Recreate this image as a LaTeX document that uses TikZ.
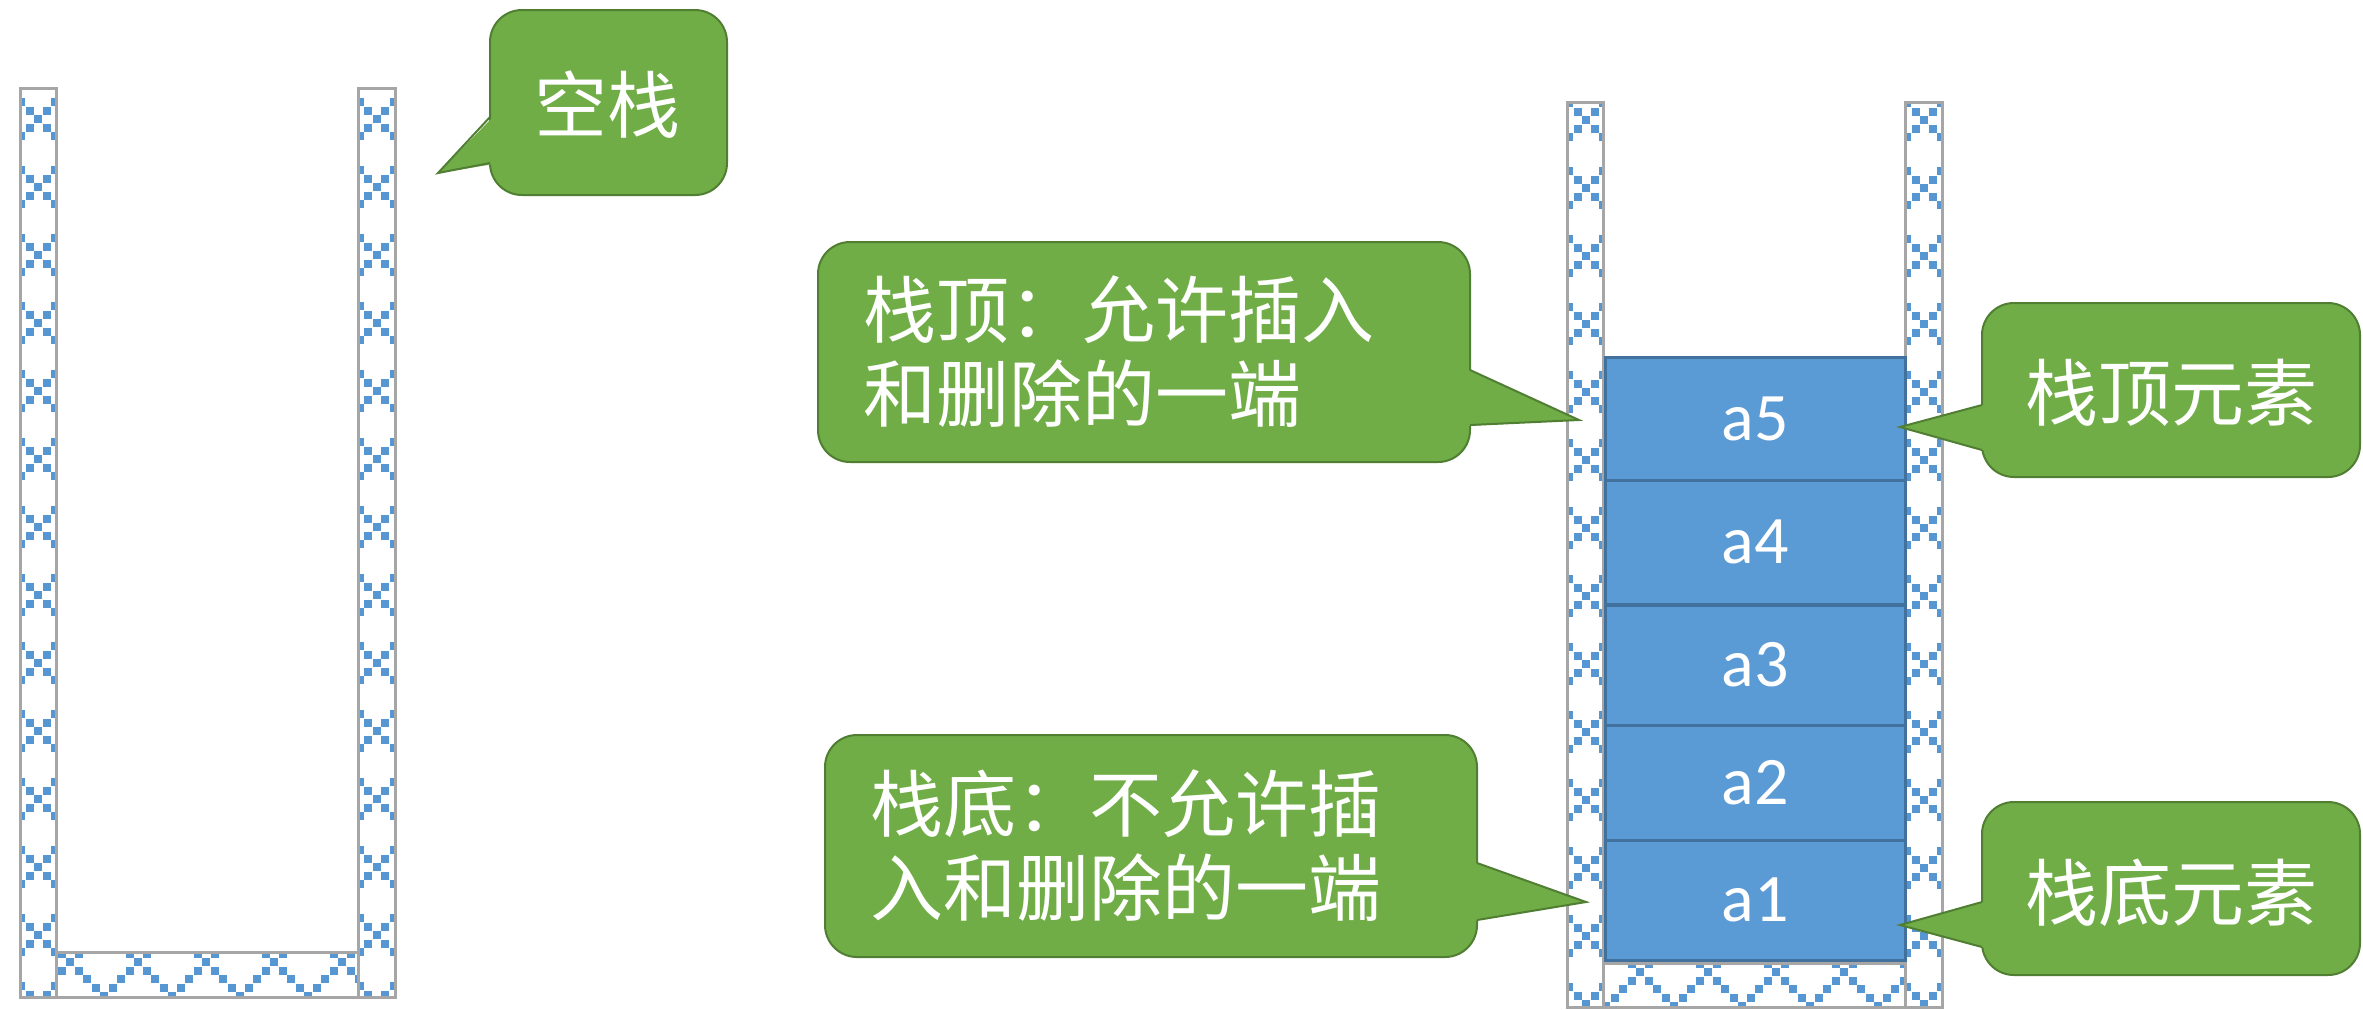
\documentclass[tikz,border=0pt]{standalone}
\usepackage{fontspec}
\setmainfont{Carlito}
\newfontfamily\cjk{Noto Sans CJK SC}
\definecolor{wallgray}{HTML}{A6A6A6}
\definecolor{latblue}{HTML}{5596D3}
\definecolor{elemblue}{HTML}{5B9BD5}
\definecolor{elemborder}{HTML}{41719C}
\definecolor{calloutgreen}{HTML}{70AD47}
\definecolor{calloutborder}{HTML}{507E32}
\tikzset{
  wallframe/.style={draw=wallgray, line width=1.5pt},
  elem/.style={draw=elemborder, fill=elemblue, line width=1.5pt, minimum width=150pt,
    text=white, inner sep=0pt, font=\fontsize{34}{34}\selectfont},
  callout/.style={fill=calloutgreen, draw=calloutborder, line width=1pt, rounded corners=16pt},
  pointerfill/.style={fill=calloutgreen},
  pointeredge/.style={draw=calloutborder, line width=1pt, line join=miter},
  ctext/.style={text=white, inner sep=0pt, align=left, font=\cjk\fontsize{36.5}{42}\selectfont}
}
\newcommand\latticefill[6]{%
  \begin{scope}
    \clip (#1,#2) rectangle (#3,#4);
    \pgfmathtruncatemacro\lia{floor((#1-#5)/8.5)-1}%
    \pgfmathtruncatemacro\lib{ceil((#3-#5)/8.5)+1}%
    \pgfmathtruncatemacro\lja{floor((#2-#6)/8.5)-1}%
    \pgfmathtruncatemacro\ljb{ceil((#4-#6)/8.5)+1}%
    \foreach \i in {\lia,...,\lib}{%
      \foreach \j in {\lja,...,\ljb}{%
        \pgfmathtruncatemacro\ma{mod(\i+\j+800,8)}%
        \pgfmathtruncatemacro\mb{mod(\i-\j+800,8)}%
        \ifnum\ma=0
          \fill[latblue] ({#5+8.5*\i-4},{#6+8.5*\j-4}) rectangle ++(8,8);
        \else\ifnum\mb=0
          \fill[latblue] ({#5+8.5*\i-4},{#6+8.5*\j-4}) rectangle ++(8,8);
        \fi\fi
      }}
  \end{scope}}
% callout: #1..#4 box x1,y1,x2,y2 ; #5 base A ; #6 tip ; #7 base B ; #8,#9 fill-cover points
\newcommand\calloutbox[9]{%
  \draw[callout] (#1,#2) rectangle (#3,#4);
  \fill[pointerfill] #8 -- #6 -- #9 -- cycle;
  \draw[pointeredge] #5 -- #6 -- #7;}
\begin{document}
\begin{tikzpicture}[x=0.5pt,y=-0.5pt]
\fill[white] (0,0) rectangle (2363,1009);
\useasboundingbox (0,0) rectangle (2363,1009);

% ---- left (empty) stack ----
\latticefill{20}{88}{56}{997}{38}{119}
\latticefill{358}{88}{395}{997}{376.5}{119}
\latticefill{56}{952}{358}{997}{70}{962}
\draw[wallframe] (20,88) rectangle (56,997);
\draw[wallframe] (358,88) rectangle (395,997);
\draw[wallframe] (56,952) rectangle (358,997);

% ---- right stack ----
\latticefill{1567}{102}{1603}{1007}{1586}{120}
\latticefill{1905}{102}{1942}{1007}{1924}{120}
\latticefill{1603}{963}{1905}{1007}{1640}{972}
\draw[wallframe] (1567,102) rectangle (1603,1007);
\draw[wallframe] (1905,102) rectangle (1942,1007);
\draw[wallframe] (1603,963) rectangle (1905,1007);

% elements
\node[elem, minimum height=61.5pt] (a5) at (1755,418.5) {a5};
\node[elem, minimum height=62pt]   (a4) at (1755,542) {a4};
\node[elem, minimum height=60pt]   (a3) at (1755,665) {a3};
\node[elem, minimum height=57.5pt] (a2) at (1755,782.5) {a2};
\node[elem, minimum height=60pt]   (a1) at (1755,900) {a1};

% ---- callout: empty stack ----
\calloutbox{490}{10}{727}{195}{(490,117)}{(438,173)}{(490,163)}{(494,116)}{(494,164)}
\node[ctext] (kz) at (607,105) {空栈};

% ---- callout: top end ----
\calloutbox{818}{242}{1470}{462}{(1470,370)}{(1579,420)}{(1470,425)}{(1466,369)}{(1466,426)}
\node[ctext, anchor=west] (top) at (863,352) {栈顶：允许插入\\和删除的一端};

% ---- callout: bottom end ----
\calloutbox{825}{735}{1477}{957}{(1477,863)}{(1586,902)}{(1477,920)}{(1473,862)}{(1473,921)}
\node[ctext, anchor=west] (bottom) at (870,846) {栈底：不允许插\\入和删除的一端};

% ---- callout: top element ----
\calloutbox{1982}{303}{2360}{477}{(1982,405)}{(1900,427)}{(1982,450)}{(1986,404)}{(1986,451)}
\node[ctext] (topel) at (2171,393) {栈顶元素};

% ---- callout: bottom element ----
\calloutbox{1982}{802}{2360}{975}{(1982,902)}{(1900,925)}{(1982,947)}{(1986,901)}{(1986,948)}
\node[ctext] (botel) at (2171,893) {栈底元素};
\end{tikzpicture}
\end{document}
